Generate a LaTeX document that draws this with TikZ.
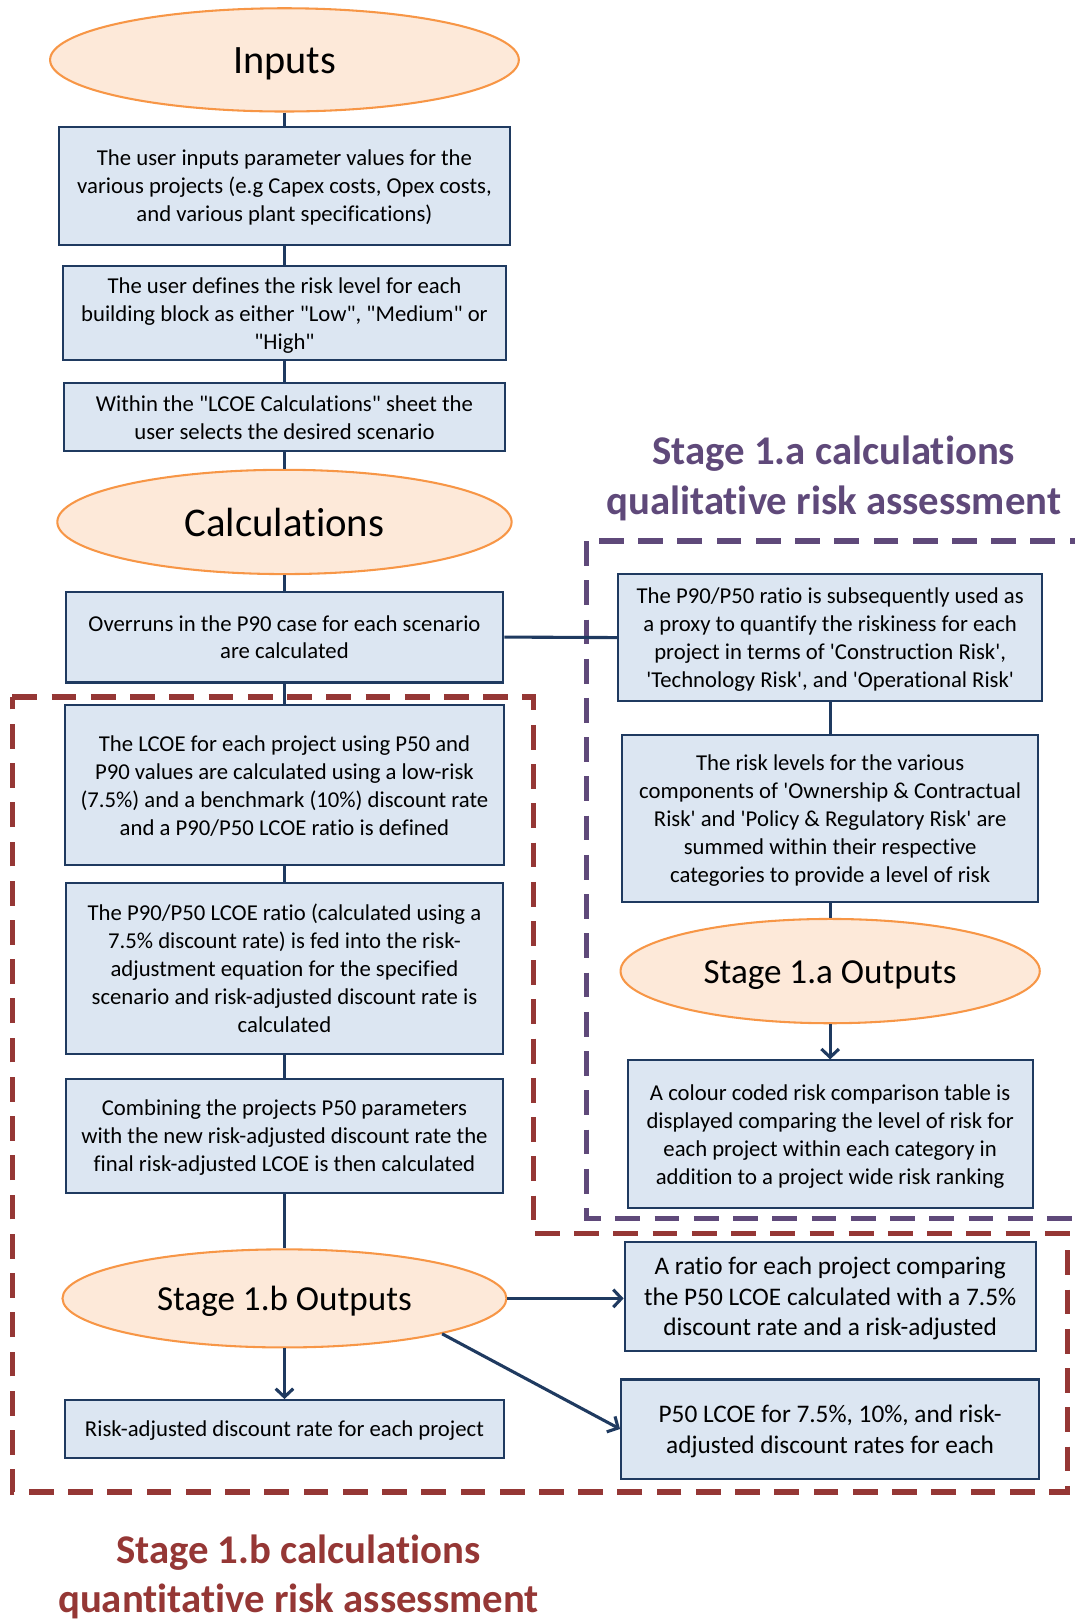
\documentclass[tikz,border=0pt]{standalone}
\usepackage{fontspec}
\setmainfont{Carlito}[Ligatures={TeXOff,NoCommon}]
\usetikzlibrary{shapes.geometric,arrows.meta}
\definecolor{boxfill}{HTML}{DCE6F2}
\definecolor{boxline}{HTML}{1F3A60}
\definecolor{ellfill}{HTML}{FDE9D9}
\definecolor{elldraw}{HTML}{F79646}
\definecolor{stagepurple}{HTML}{5F497A}
\definecolor{stagered}{HTML}{953735}
\newcommand\fs{\rule{0pt}{0.95em}}
\newcommand\fe{\rule[-0.25em]{0pt}{0pt}}
\tikzset{
  stepbox/.style={draw=boxline, fill=boxfill, line width=2pt, align=center, inner sep=0pt,
    font=\fontsize{22}{27}\selectfont},
  bigbox/.style={stepbox, font=\fontsize{24.5}{29.5}\selectfont},
  oval/.style={ellipse, draw=elldraw, fill=ellfill, line width=2pt, inner sep=0pt},
  conn/.style={draw=boxline, line width=3pt},
  arr/.style={conn, -{Straight Barb[length=8pt,width=17pt]}},
  stagedash/.style={line width=5pt, dash pattern=on 24pt off 14pt},
  titletext/.style={align=center, font=\fontsize{39.5}{48}\selectfont\bfseries},
}
\begin{document}
\begin{tikzpicture}[x=1pt,y=-1pt]
\useasboundingbox (0,0) rectangle (1041,1568);

% dashed regions
\draw[stagedash, draw=stagepurple] (568,524) rectangle (1070,1180);
\draw[stagedash, draw=stagered] (12,675) -- (517,675) -- (517,1195) -- (1034,1195) -- (1034,1445) -- (12,1445) -- cycle;

% left column
\node[oval, minimum width=454pt, minimum height=100pt, font=\fontsize{39}{47}\selectfont] (inputs) at (275.5,58) {\fs Inputs\fe};
\node[stepbox, minimum width=437pt, minimum height=114pt] (b1) at (275.5,180)
  {\fs The user inputs parameter values for the\\various projects (e.g Capex costs, Opex costs,\\and various plant specifications)\fe};
\node[stepbox, minimum width=429pt, minimum height=91pt] (b2) at (275.5,303.5)
  {\fs The user defines the risk level for each\\building block as either "Low", "Medium" or\\"High"\fe};
\node[stepbox, minimum width=427pt, minimum height=66pt] (b3) at (275.5,404)
  {\fs Within the "LCOE Calculations" sheet the\\user selects the desired scenario\fe};
\node[oval, minimum width=440pt, minimum height=101pt, font=\fontsize{39.5}{47}\selectfont] (calc) at (275.5,505.5) {\fs Calculations\fe};
\node[stepbox, minimum width=424pt, minimum height=88pt] (b4) at (275.5,617)
  {\fs Overruns in the P90 case for each scenario\\are calculated\fe};
\node[stepbox, minimum width=425pt, minimum height=155pt] (b5) at (275.5,760.5)
  {\fs The LCOE for each project using P50 and\\P90 values are calculated using a low-risk\\(7.5\%) and a benchmark (10\%) discount rate\\and a P90/P50 LCOE ratio is defined\fe};
\node[stepbox, minimum width=423pt, minimum height=166pt] (b6) at (275.5,938)
  {\fs The P90/P50 LCOE ratio (calculated using a\\7.5\% discount rate) is fed into the risk-\\adjustment equation for the specified\\scenario and risk-adjusted discount rate is\\calculated\fe};
\node[stepbox, minimum width=423pt, minimum height=110pt] (b7) at (275.5,1100)
  {\fs Combining the projects P50 parameters\\with the new risk-adjusted discount rate the\\final risk-adjusted LCOE is then calculated\fe};
\node[oval, minimum width=430pt, minimum height=95pt, font=\fontsize{34}{41}\selectfont] (out1b) at (275.5,1257.5) {\fs Stage 1.b Outputs\fe};
\node[stepbox, minimum width=425pt, minimum height=56pt] (b8) at (275.5,1384)
  {\fs Risk-adjusted discount rate for each project\fe};

% right column
\node[stepbox, minimum width=411pt, minimum height=123pt] (r1) at (804,617.5)
  {\fs The P90/P50 ratio is subsequently used as\\a proxy to quantify the riskiness for each\\project in terms of 'Construction Risk',\\'Technology Risk', and 'Operational Risk'\fe};
\node[stepbox, minimum width=403pt, minimum height=162pt] (r2) at (804,793)
  {\fs The risk levels for the various\\components of 'Ownership \& Contractual\\Risk' and 'Policy \& Regulatory Risk' are\\summed within their respective\\categories to provide a level of risk\fe};
\node[oval, minimum width=406pt, minimum height=101pt, font=\fontsize{34}{41}\selectfont] (out1a) at (804,940.5) {\fs Stage 1.a Outputs\fe};
\node[stepbox, minimum width=392pt, minimum height=143pt] (r3) at (804,1098.5)
  {\fs A colour coded risk comparison table is\\displayed comparing the level of risk for\\each project within each category in\\addition to a project wide risk ranking\fe};
\node[bigbox, minimum width=398pt, minimum height=105pt] (r4) at (804,1255.5)
  {\fs A ratio for each project comparing\\the P50 LCOE calculated with a 7.5\%\\discount rate and a risk-adjusted\fe};
\node[bigbox, minimum width=405pt, minimum height=96pt] (r5) at (804,1384)
  {\fs P50 LCOE for 7.5\%, 10\%, and risk-\\adjusted discount rates for each\fe};

% titles
\node[titletext, text=stagepurple] (t1a) at (807.5,460) {\fs Stage 1.a calculations\\qualitative risk assessment\fe};
\node[titletext, text=stagered] (t1b) at (289,1524) {\fs Stage 1.b calculations\\quantitative risk assessment\fe};

% connectors
\draw[conn] (inputs.south) -- (b1.north);
\draw[conn] (b1.south) -- (b2.north);
\draw[conn] (b2.south) -- (b3.north);
\draw[conn] (b3.south) -- (calc.north);
\draw[conn] (calc.south) -- (b4.north);
\draw[conn] (b4.south) -- (b5.north);
\draw[conn] (b5.south) -- (b6.north);
\draw[conn] (b6.south) -- (b7.north);
\draw[conn] (b7.south) -- (out1b.north);
\draw[arr] (out1b.south) -- (b8.north);
\draw[conn] (b4.east) -- (r1.west);
\draw[conn] (r1.south) -- (r2.north);
\draw[conn] (r2.south) -- (out1a.north);
\draw[arr] (out1a.south) -- (r3.north);
\draw[arr] (out1b.east) -- (out1b.east -| r4.west);
\draw[arr] (out1b.south east) -- (r5.west);
\end{tikzpicture}
\end{document}
